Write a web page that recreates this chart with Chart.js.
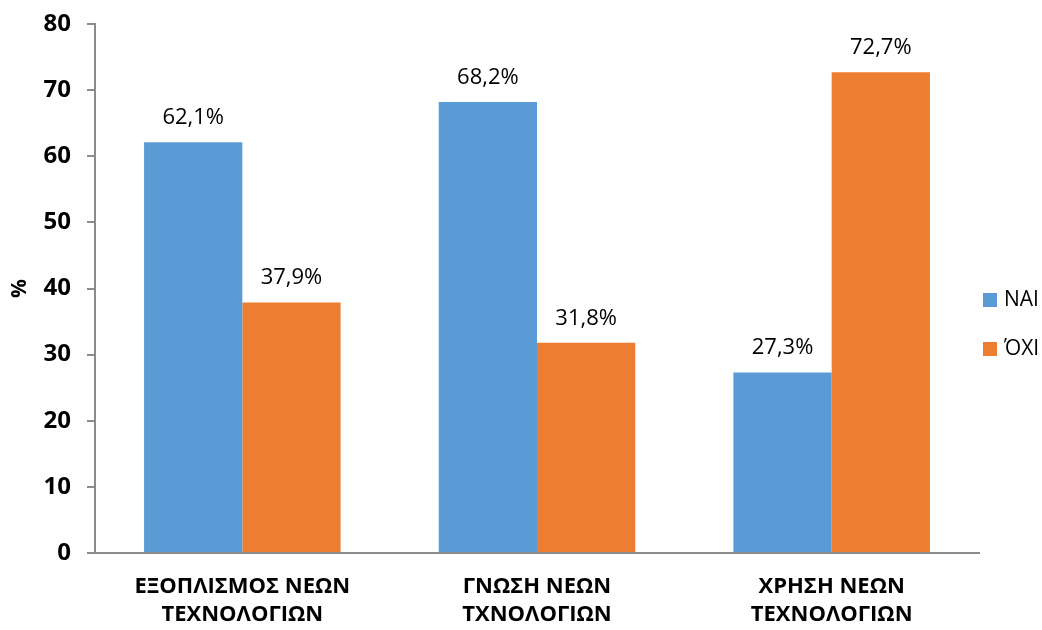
<!DOCTYPE html>
<html>
<head>
<meta charset="utf-8">
<script src="https://cdn.jsdelivr.net/npm/chart.js@4"></script>
<style>
  html, body { margin: 0; padding: 0; background: #fff; }
  #wrap { width: 1042px; height: 630px; }
</style>
</head>
<body>
<div id="wrap"><canvas id="techChart" width="1042" height="630"></canvas></div>
<script>
var categories = [
    ["ΕΞΟΠΛΙΣΜΟΣ ΝΕΩΝ", "ΤΕΧΝΟΛΟΓΙΩΝ"],
    ["ΓΝΩΣΗ ΝΕΩΝ", "ΤΧΝΟΛΟΓΙΩΝ"],
    ["ΧΡΗΣΗ ΝΕΩΝ", "ΤΕΧΝΟΛΟΓΙΩΝ"]
];
var yesValues = [62.1, 68.2, 27.3];
var noValues = [37.9, 31.8, 72.7];
var seriesNames = ["ΝΑΙ", "ΌΧΙ"];

var FONT = "'Open Sans', sans-serif";
var axisGray = '#8c8c8c';

// value labels above each bar, e.g. "62,1%"
var barLabels = {
    id: 'barLabels',
    afterDatasetsDraw: function (chart) {
        var ctx = chart.ctx;
        ctx.save();
        ctx.font = '22px ' + FONT;
        ctx.fillStyle = '#000';
        ctx.textAlign = 'center';
        ctx.textBaseline = 'alphabetic';
        chart.data.datasets.forEach(function (ds, i) {
            chart.getDatasetMeta(i).data.forEach(function (bar, j) {
                var txt = ds.data[j].toFixed(1).replace('.', ',') + '%';
                ctx.fillText(txt, bar.x, bar.y - 18);
            });
        });
        ctx.restore();
    }
};

// legend on the right, drawn by hand to match spacing
var sideLegend = {
    id: 'sideLegend',
    afterDraw: function (chart) {
        var ctx = chart.ctx;
        ctx.save();
        ctx.font = '21px ' + FONT;
        ctx.textBaseline = 'middle';
        ctx.textAlign = 'left';
        chart.data.datasets.forEach(function (ds, i) {
            var y = 300 + i * 49;
            ctx.fillStyle = ds.backgroundColor;
            ctx.fillRect(983, y - 7, 14, 14);
            ctx.fillStyle = '#000';
            ctx.fillText(ds.label, 1004, y);
        });
        ctx.restore();
    }
};

var ctx = document.getElementById('techChart').getContext('2d');
new Chart(ctx, {
    type: 'bar',
    data: {
        labels: categories,
        datasets: [
            {
                label: seriesNames[0],
                backgroundColor: '#5B9BD5',
                data: yesValues
            },
            {
                label: seriesNames[1],
                backgroundColor: '#ED7D31',
                data: noValues
            }
        ]
    },
    options: {
        responsive: false,
        animation: false,
        layout: { padding: { top: 24, right: 63, left: 0, bottom: 0 } },
        datasets: {
            bar: { categoryPercentage: 0.667, barPercentage: 1.0 }
        },
        plugins: {
            legend: { display: false },
            tooltip: { enabled: false }
        },
        scales: {
            x: {
                grid: { display: false },
                border: { display: true, color: axisGray, width: 2 },
                ticks: {
                    color: '#000',
                    font: { family: FONT, size: 22, weight: 'bold', lineHeight: 1.27 },
                    maxRotation: 0,
                    padding: 12
                },
                afterFit: function (scale) { scale.height = 77; }
            },
            y: {
                min: 0,
                max: 80,
                ticks: {
                    stepSize: 10,
                    color: '#000',
                    font: { family: FONT, size: 24, weight: 'bold' },
                    padding: 16
                },
                grid: {
                    drawOnChartArea: false,
                    drawTicks: true,
                    tickLength: 8,
                    color: axisGray,
                    lineWidth: 2
                },
                border: { display: true, color: axisGray, width: 2 },
                title: {
                    display: true,
                    text: '%',
                    color: '#000',
                    font: { family: FONT, size: 21, weight: 'bold' },
                    padding: 7
                },
                afterFit: function (scale) {
                    scale.width = 95;
                    scale.paddingTop = 0;
                    scale.paddingBottom = 0;
                }
            }
        }
    },
    plugins: [barLabels, sideLegend]
});
</script>
</body>
</html>
